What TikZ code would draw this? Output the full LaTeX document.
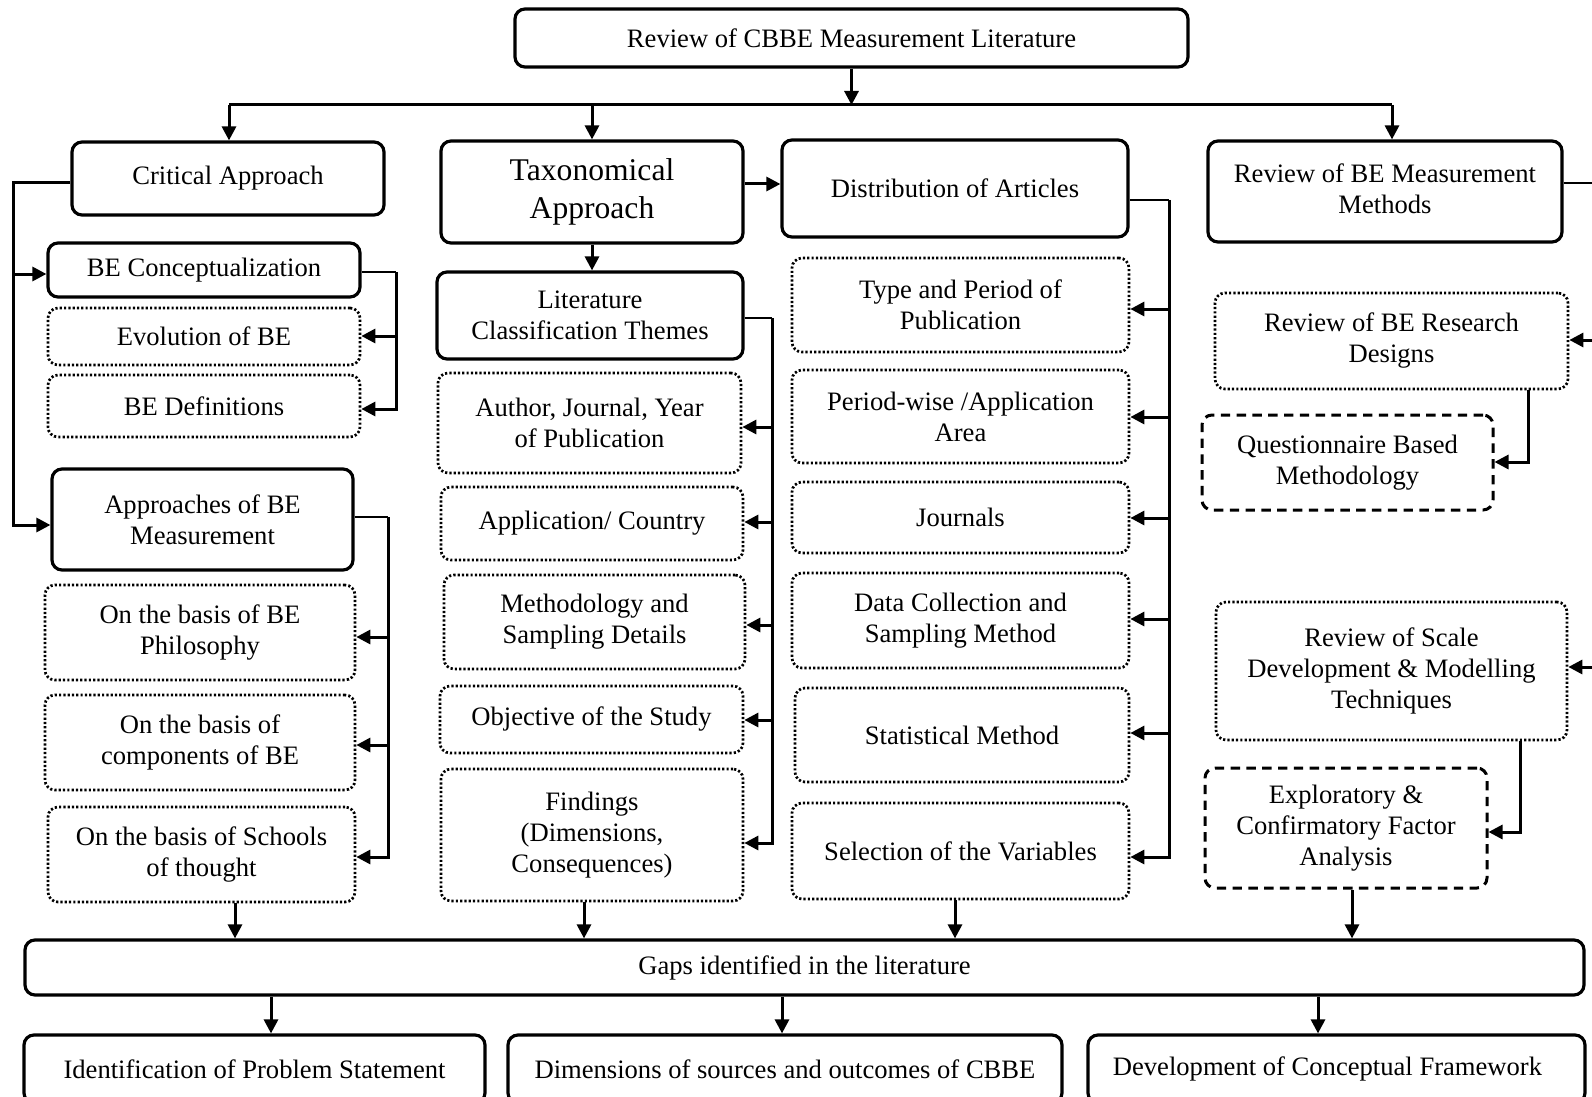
\documentclass[tikz,border=0pt]{standalone}
\usepackage{fontspec}
\setmainfont{Liberation Serif}
\usetikzlibrary{arrows.meta}

\begin{document}
\begin{tikzpicture}[x=0.5pt,y=-0.5pt,
  every node/.style={font=\fontsize{13.3}{15.5}\selectfont, align=center, inner sep=0pt},
  sz/.style 2 args={minimum width=#1*0.5pt, minimum height=#2*0.5pt},
  boxbase/.style={rounded corners=5pt, inner sep=0pt},
  solidbox/.style={boxbase, draw, line width=1.6pt},
  dotbox/.style={boxbase, draw, line width=1.35pt, dash pattern=on 1.1pt off 1.05pt},
  dashbox/.style={boxbase, draw, line width=1.5pt, dash pattern=on 4.7pt off 3.2pt},
  conn/.style={line width=1.5pt},
  stub/.style={line width=0.9pt},
  arr/.style={conn, -{Triangle[length=7pt,width=7pt]}},
]
\useasboundingbox (0,0) rectangle (1592,1097);
\clip (0,0) rectangle (1592,1097);

% ---- top level ----
\node[solidbox, sz={673}{58}] (top) at (851.5,38) {Review of CBBE Measurement Literature};

\node[solidbox, sz={312}{73}] (crit) at (228,178.5) {\raisebox{3pt}{Critical Approach}};
\node[solidbox, sz={302}{102}, font=\fontsize{15.8}{18.8}\selectfont] (tax) at (592,192) {Taxonomical\\Approach};
\node[solidbox, sz={346}{97}] (dist) at (955,188.5) {Distribution of Articles};
\node[solidbox, sz={354}{101}] (rmm) at (1385,191.5)
  {\raisebox{3pt}{\begin{tabular}{@{}c@{}}Review of BE Measurement\\Methods\end{tabular}}};

% ---- critical approach column ----
\node[solidbox, sz={312}{54}] (becon) at (204,270) {BE Conceptualization};
\node[dotbox, sz={312}{57}] (evol) at (204,336.5) {Evolution of BE};
\node[dotbox, sz={312}{62}] (bdef) at (204,406) {BE Definitions};
\node[solidbox, sz={301}{101}] (appr) at (202.5,519.5) {Approaches of BE\\Measurement};
\node[dotbox, sz={310}{95}] (phil) at (200,632.5) {On the basis of BE\\Philosophy};
\node[dotbox, sz={310}{95}] (comp) at (200,742.5) {On the basis of\\components of BE};
\node[dotbox, sz={307}{95}] (schl) at (201.5,854.5) {On the basis of Schools\\of thought};

% ---- taxonomical column ----
\node[solidbox, sz={306}{87}] (lct) at (590,315.5) {Literature\\Classification Themes};
\node[dotbox, sz={303}{100}] (auth) at (589.5,423) {Author, Journal, Year\\of Publication};
\node[dotbox, sz={302}{73}] (appc) at (592,523.5) {Application/ Country};
\node[dotbox, sz={301}{94}] (msd) at (594.5,622) {Methodology and\\Sampling Details};
\node[dotbox, sz={303}{67}] (obj) at (591.5,719.5) {Objective of the Study};
\node[dotbox, sz={302}{132}] (find) at (592,835) {Findings\\(Dimensions,\\Consequences)};

% ---- distribution column ----
\node[dotbox, sz={337}{94}] (type) at (960.5,305) {Type and Period of\\Publication};
\node[dotbox, sz={337}{93}] (pw) at (960.5,416.5) {Period-wise /Application\\Area};
\node[dotbox, sz={337}{71}] (jour) at (960.5,517.5) {Journals};
\node[dotbox, sz={337}{95}] (dcs) at (960.5,620.5) {Data Collection and\\Sampling Method};
\node[dotbox, sz={334}{94}] (stat) at (962,735) {Statistical Method};
\node[dotbox, sz={337}{96}] (sel) at (960.5,851) {Selection of the Variables};

% ---- measurement methods column ----
\node[dotbox, sz={353}{96}] (resd) at (1391.5,341) {Review of BE Research\\Designs};
\node[dashbox, sz={291}{95}] (quest) at (1347.5,462.5) {Questionnaire Based\\Methodology};
\node[dotbox, sz={351}{138}] (scale) at (1391.5,671) {Review of Scale\\Development \& Modelling\\Techniques};
\node[dashbox, sz={282}{120}] (expl) at (1346,828) {Exploratory \&\\Confirmatory Factor\\Analysis};

% ---- gaps and outcomes ----
\node[solidbox, sz={1559}{55}] (gaps) at (804.5,967.5) {\raisebox{-1.5pt}{Gaps identified in the literature}};
\node[solidbox, sz={461}{68}] (ips) at (254.5,1069) {Identification of Problem Statement};
\node[solidbox, sz={554}{68}] (dso) at (785,1069) {Dimensions of sources and outcomes of CBBE};
\node[solidbox, sz={497}{68}] (dcf) at (1336.5,1069) {\raisebox{-1.5pt}{Development of Conceptual Framework\hspace*{9pt}}};

% ---- distribution bar from the top box ----
\coordinate (bar) at (851,105);
\coordinate (barL) at (229,105);
\coordinate (barR) at (1392,105);
\draw[arr] (top.south) -- (top.south |- bar);
\draw[conn] (barL) -- (barR);
\draw[arr] (barL) -- (barL |- crit.north);
\draw[arr] (tax.north |- bar) -- (tax.north);
\draw[arr] (barR) -- (barR |- rmm.north);
\draw[arr] (tax.east |- 0,184) -- (dist.west |- 0,184);

% ---- critical approach links ----
\coordinate (railL) at (13,183);
\draw[arr] (crit.west |- railL) -- (railL) |- (appr.west |- 0,525);
\draw[arr] (railL |- 0,274) -- (becon.west |- 0,274);

\coordinate (railB) at (396,272);
\draw[stub] (becon.east |- railB) -- (railB);
\draw[arr] (railB) |- (bdef.east |- 0,409);
\draw[arr] (railB |- 0,336) -- (evol.east |- 0,336);

\coordinate (railA) at (388,517);
\draw[stub] (appr.east |- railA) -- (railA);
\draw[arr] (railA) |- (schl.east |- 0,857);
\draw[arr] (railA |- 0,637) -- (phil.east |- 0,637);
\draw[arr] (railA |- 0,745) -- (comp.east |- 0,745);

% ---- taxonomical links ----
\draw[arr] (tax.south) -- (tax.south |- lct.north);
\coordinate (railT) at (772,318);
\draw[stub] (lct.east |- railT) -- (railT);
\draw[arr] (railT) |- (find.east |- 0,843);
\draw[arr] (railT |- 0,427) -- (auth.east |- 0,427);
\draw[arr] (railT |- 0,522) -- (appc.east |- 0,522);
\draw[arr] (railT |- 0,625) -- (msd.east |- 0,625);
\draw[arr] (railT |- 0,720) -- (obj.east |- 0,720);

% ---- distribution links ----
\coordinate (railD) at (1169,200);
\draw[stub] (dist.east |- railD) -- (railD);
\draw[arr] (railD) |- (sel.east |- 0,857);
\draw[arr] (railD |- 0,309) -- (type.east |- 0,309);
\draw[arr] (railD |- 0,417) -- (pw.east |- 0,417);
\draw[arr] (railD |- 0,518) -- (jour.east |- 0,518);
\draw[arr] (railD |- 0,619) -- (dcs.east |- 0,619);
\draw[arr] (railD |- 0,733) -- (stat.east |- 0,733);

% ---- measurement methods links ----
\coordinate (edgeR) at (1592,183);
\coordinate (inRD) at (1592,340);
\coordinate (inSC) at (1592,667);
\draw[stub] (rmm.east |- edgeR) -- (edgeR);
\draw[arr] (inRD) -- (resd.east |- inRD);
\draw[arr] (inSC) -- (scale.east |- inSC);
\draw[arr] (resd.south -| 1528,0) |- (quest.east |- 0,462);
\draw[arr] (scale.south -| 1520,0) |- (expl.east |- 0,832);

% ---- into and out of the gaps box ----
\draw[arr] (schl.south -| 235,0) -- (gaps.north -| 235,0);
\draw[arr] (find.south -| 584,0) -- (gaps.north -| 584,0);
\draw[arr] (sel.south -| 955,0) -- (gaps.north -| 955,0);
\draw[arr] (expl.south -| 1352,0) -- (gaps.north -| 1352,0);
\draw[arr] (gaps.south -| 271,0) -- (ips.north -| 271,0);
\draw[arr] (gaps.south -| 782,0) -- (dso.north -| 782,0);
\draw[arr] (gaps.south -| 1318,0) -- (dcf.north -| 1318,0);
\end{tikzpicture}
\end{document}
